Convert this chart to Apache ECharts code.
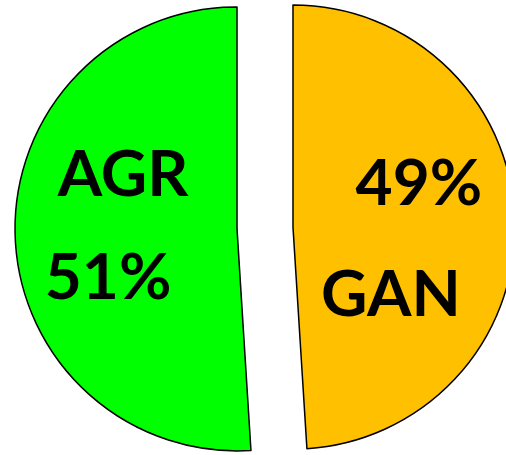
<!DOCTYPE html>
<html>
<head>
<meta charset="utf-8">
<script src="https://cdn.jsdelivr.net/npm/echarts@6/dist/echarts.min.js"></script>
<style>
  html, body { margin: 0; padding: 0; background: #fff; }
  #main { width: 506px; height: 455px; }
</style>
</head>
<body>
<div id="main"></div>
<script>
// pie data, clockwise from the top
const names = ['GAN', 'AGR']
const values = [49, 51]
const colors = ['#FFC000', '#00FF00']

const chart = echarts.init(document.getElementById('main'))

const labelFor = (i) => {
  // GAN: percent above the name, AGR: name above the percent
  if (names[i] === 'GAN') {
    return {
      formatter: (p) => '{p|' + Math.round(p.percent) + '%}\n{n|' + p.name + '}',
      rich: {
        p: { lineHeight: 143, padding: [0, 0, 0, 24] },
        n: { lineHeight: 79, padding: [0, 32, 0, 0] }
      }
    }
  }
  return {
    formatter: (p) => '{n|' + p.name + '}\n{p|' + Math.round(p.percent) + '%}',
    rich: {
      n: { lineHeight: 91, padding: [0, 0, 0, 0] },
      p: { lineHeight: 115, padding: [0, 30, 0, 0] }
    }
  }
}

const option = {
  backgroundColor: '#fff',
  animation: false,
  series: [
    {
      type: 'pie',
      center: [265, 228],
      radius: 222,
      startAngle: 90,
      clockwise: true,
      selectedMode: 'multiple',
      selectedOffset: 28,
      emphasis: { disabled: true },
      itemStyle: {
        borderColor: '#000',
        borderWidth: 1.5
      },
      label: {
        show: true,
        position: 'inside',
        color: '#000',
        fontFamily: 'Lato',
        fontWeight: 'bold',
        fontSize: 64
      },
      labelLine: { show: false },
      data: names.map((n, i) => ({
        name: n,
        value: values[i],
        selected: true,
        itemStyle: { color: colors[i] },
        label: labelFor(i)
      }))
    }
  ]
}
chart.setOption(option)
</script>
</body>
</html>
